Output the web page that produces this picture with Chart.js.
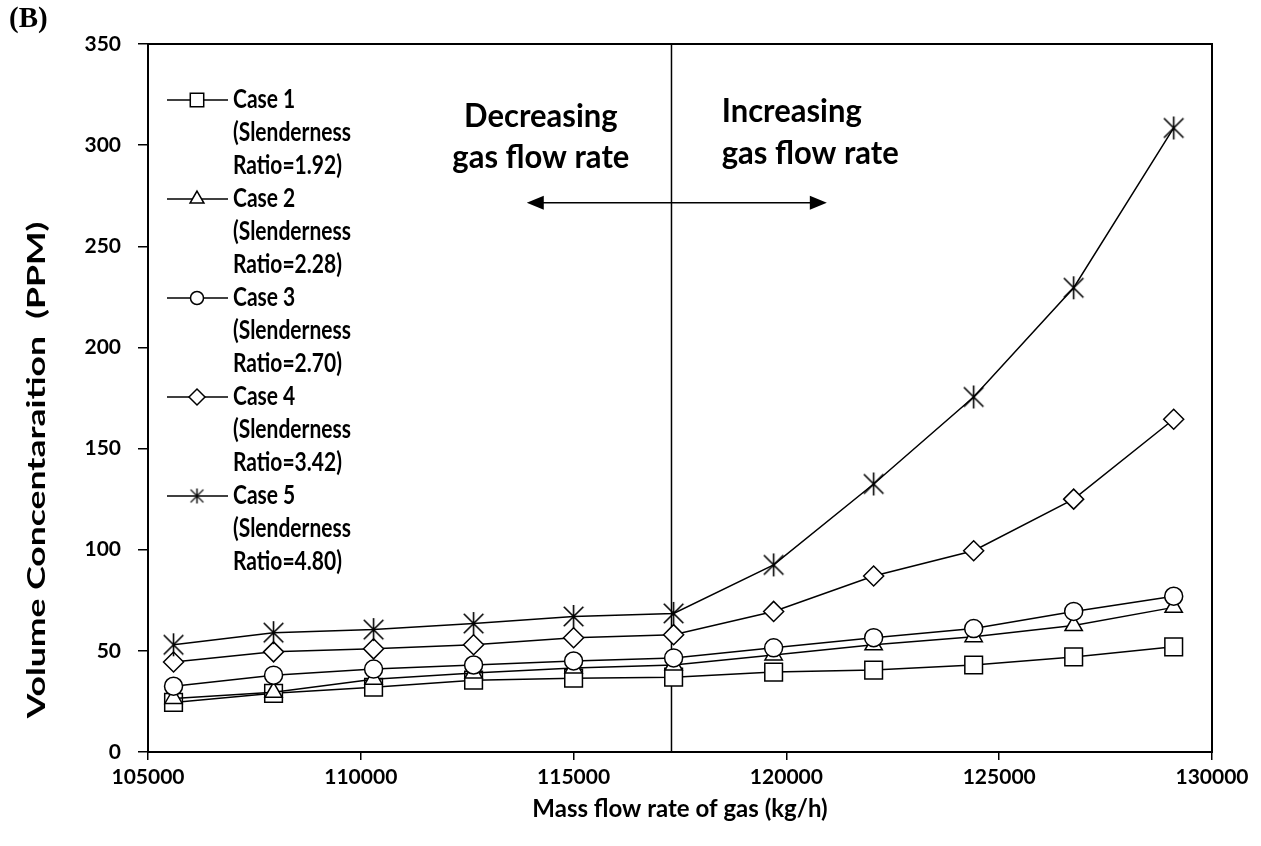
<!DOCTYPE html>
<html>
<head>
<meta charset="utf-8">
<script src="https://cdn.jsdelivr.net/npm/chart.js@4.4.1/dist/chart.umd.min.js"></script>
<style>
  html, body { margin: 0; padding: 0; background: #fff; }
  #wrap { position: relative; width: 1261px; height: 846px; }
  #panel { position: absolute; left: 9px; top: 1px; font: bold 29px "Liberation Serif", serif; color: #000; }
</style>
</head>
<body>
<div id="wrap">
  <canvas id="c" width="1261" height="846"></canvas>
  <div id="panel">(B)</div>
</div>
<script>
// mass flow rate of gas (kg/h)
const flowRate = [105600, 107950, 110300, 112650, 115000, 117350, 119700, 122050, 124400, 126750, 129100];

// volume concentration (PPM)
const case1 = [24.5, 29, 32, 35.5, 36.5, 37, 39.5, 40.5, 43, 47, 52];
const case2 = [26.5, 29.5, 36, 39, 41.5, 43, 48, 53, 57, 62.5, 71.5];
const case3 = [32.5, 38, 41, 43, 45, 46.5, 51.5, 56.5, 61, 69.5, 77];
const case4 = [44.5, 49.5, 51, 53, 56.5, 58, 69.5, 87, 99.5, 125, 164.5];
const case5 = [53, 59, 60.5, 63.5, 67, 68.5, 92.5, 132.5, 175.5, 229.5, 308.5];

const caseNames = ['Case 1', 'Case 2', 'Case 3', 'Case 4', 'Case 5'];
const slenderRatio = ['1.92', '2.28', '2.70', '3.42', '4.80'];

const xMin = 105000, xMax = 130000, xStep = 5000;
const yMin = 0, yMax = 350, yStep = 50;

// vertical divider position (kg/h)
const dividerX = 117300;

const FONT = 'Lato';
const yTitle = 'Volume Concentaraition  (PPM)';

function makeStar(size, lw){
  const c = document.createElement('canvas');
  c.width = size; c.height = size;
  const g = c.getContext('2d');
  const m = size / 2, r = size / 2 - 1, d = r * 0.85;
  g.strokeStyle = '#000';
  g.lineWidth = lw;
  g.beginPath();
  g.moveTo(m, m - r); g.lineTo(m, m + r);
  g.moveTo(m - d, m - d); g.lineTo(m + d, m + d);
  g.moveTo(m + d, m - d); g.lineTo(m - d, m + d);
  g.stroke();
  return c;
}
const starBig = makeStar(25, 1.6);
const starSmall = makeStar(17, 1.4);

function pts(ys){ return ys.map((y, i) => ({ x: flowRate[i], y: y })); }

const markers = [
  { style: 'rect', r: 12.5, lr: 9.5 },
  { style: 'triangle', r: 10, lr: 8 },
  { style: 'circle', r: 9, lr: 6.5 },
  { style: 'rectRot', r: 10, lr: 8 },
  { style: starBig, r: 10, lr: 8, legend: starSmall }
];
const series = [case1, case2, case3, case4, case5];

const datasets = series.map((s, i) => ({
  label: caseNames[i],
  data: pts(s),
  showLine: true,
  borderColor: '#000',
  borderWidth: 1.5,
  backgroundColor: '#fff',
  pointStyle: markers[i].style,
  pointRadius: markers[i].r,
  pointBorderWidth: 1.5,
  pointBorderColor: '#000',
  pointBackgroundColor: '#fff',
  order: 5 - i
}));
datasets.push({
  label: 'divider',
  data: [{ x: dividerX, y: yMin }, { x: dividerX, y: yMax }],
  showLine: true,
  borderColor: '#000',
  borderWidth: 1.5,
  pointRadius: 0,
  order: 10
});

// text drawn with a vertical stretch, like the tall lettering of the source
function tallText(ctx, txt, x, y, sy){
  ctx.save();
  ctx.translate(x, y);
  ctx.scale(1, sy);
  ctx.fillText(txt, 0, 0);
  ctx.restore();
}

// boxed frame around plot area + rotated y title
const framePlugin = {
  id: 'frame',
  afterDraw(chart){
    const a = chart.chartArea, ctx = chart.ctx;
    ctx.save();
    ctx.strokeStyle = '#000';
    ctx.lineWidth = 2;
    ctx.strokeRect(a.left, a.top, a.right - a.left, a.bottom - a.top);

    ctx.fillStyle = '#000';
    ctx.font = 'bold 24px ' + FONT;
    ctx.textAlign = 'center';
    ctx.textBaseline = 'middle';
    ctx.translate(37, 470);
    ctx.rotate(-Math.PI / 2);
    ctx.scale(1.48, 1);
    ctx.fillText(yTitle, 0, 0);
    ctx.restore();
  }
};

// in-plot legend with three text lines per case
const legendPlugin = {
  id: 'caseLegend',
  afterDraw(chart){
    const ctx = chart.ctx;
    ctx.save();
    ctx.font = 'bold 21px ' + FONT;
    ctx.textBaseline = 'middle';
    caseNames.forEach((name, i) => {
      const y = 100 + i * 99;
      ctx.strokeStyle = '#000';
      ctx.lineWidth = 1.5;
      ctx.beginPath();
      ctx.moveTo(167, y); ctx.lineTo(228, y);
      ctx.stroke();
      ctx.fillStyle = '#fff';
      Chart.helpers.drawPoint(ctx, {
        pointStyle: markers[i].legend || markers[i].style,
        radius: markers[i].lr, rotation: 0, borderWidth: 1.5
      }, 197, y);
      ctx.fillStyle = '#000';
      tallText(ctx, name, 233, y, 1.25);
      tallText(ctx, '(Slenderness', 233, y + 33, 1.25);
      tallText(ctx, 'Ratio=' + slenderRatio[i] + ')', 233, y + 66, 1.25);
    });
    ctx.restore();
  }
};

// direction labels and double arrow
const notesPlugin = {
  id: 'notes',
  afterDraw(chart){
    const ctx = chart.ctx, xs = chart.scales.x, ys = chart.scales.y;
    ctx.save();
    ctx.fillStyle = '#000';
    ctx.font = 'bold 31px ' + FONT;
    ctx.textBaseline = 'middle';
    ctx.textAlign = 'center';
    tallText(ctx, 'Decreasing', xs.getPixelForValue(114230), ys.getPixelForValue(314), 1.05);
    tallText(ctx, 'gas flow rate', xs.getPixelForValue(114230), ys.getPixelForValue(294), 1.05);
    ctx.textAlign = 'left';
    tallText(ctx, 'Increasing', xs.getPixelForValue(118480), ys.getPixelForValue(316.5), 1.05);
    tallText(ctx, 'gas flow rate', xs.getPixelForValue(118480), ys.getPixelForValue(296), 1.05);

    const x0 = xs.getPixelForValue(113900), x1 = xs.getPixelForValue(120950);
    const y = ys.getPixelForValue(271.5);
    ctx.strokeStyle = '#000';
    ctx.lineWidth = 1.5;
    ctx.beginPath();
    ctx.moveTo(x0 + 10, y); ctx.lineTo(x1 - 10, y);
    ctx.stroke();
    ctx.beginPath();
    ctx.moveTo(x0, y); ctx.lineTo(x0 + 17, y - 7); ctx.lineTo(x0 + 17, y + 7); ctx.closePath();
    ctx.moveTo(x1, y); ctx.lineTo(x1 - 17, y - 7); ctx.lineTo(x1 - 17, y + 7); ctx.closePath();
    ctx.fill();
    ctx.restore();
  }
};

const tickFont = { family: FONT, size: 21, weight: 'bold' };
const titleFont = { family: FONT, size: 24, weight: 'bold' };

new Chart(document.getElementById('c'), {
  type: 'scatter',
  data: { datasets: datasets },
  options: {
    responsive: false,
    animation: false,
    devicePixelRatio: 1,
    layout: { padding: { left: 0, top: 44, right: 49, bottom: 0 } },
    plugins: { legend: { display: false }, tooltip: { enabled: false } },
    scales: {
      x: {
        type: 'linear',
        min: xMin, max: xMax,
        afterFit(s){ s.height = 94; },
        border: { display: true, color: '#000', width: 2 },
        grid: { display: true, drawOnChartArea: false, drawTicks: true, tickLength: 8, color: '#000', lineWidth: 1.5 },
        ticks: { stepSize: xStep, color: '#000', font: tickFont, padding: 5, maxRotation: 0,
                 callback: v => String(v) },
        title: { display: true, text: 'Mass flow rate of gas (kg/h)', color: '#000', font: titleFont,
                 padding: { top: 0, bottom: 22 } }
      },
      y: {
        min: yMin, max: yMax,
        afterFit(s){ s.width = 148; },
        border: { display: true, color: '#000', width: 2 },
        grid: { display: true, drawOnChartArea: false, drawTicks: true, tickLength: 10, color: '#000', lineWidth: 1.5 },
        ticks: { stepSize: yStep, color: '#000', font: tickFont, padding: 17 },
        title: { display: false }
      }
    }
  },
  plugins: [framePlugin, legendPlugin, notesPlugin]
});
</script>
</body>
</html>
